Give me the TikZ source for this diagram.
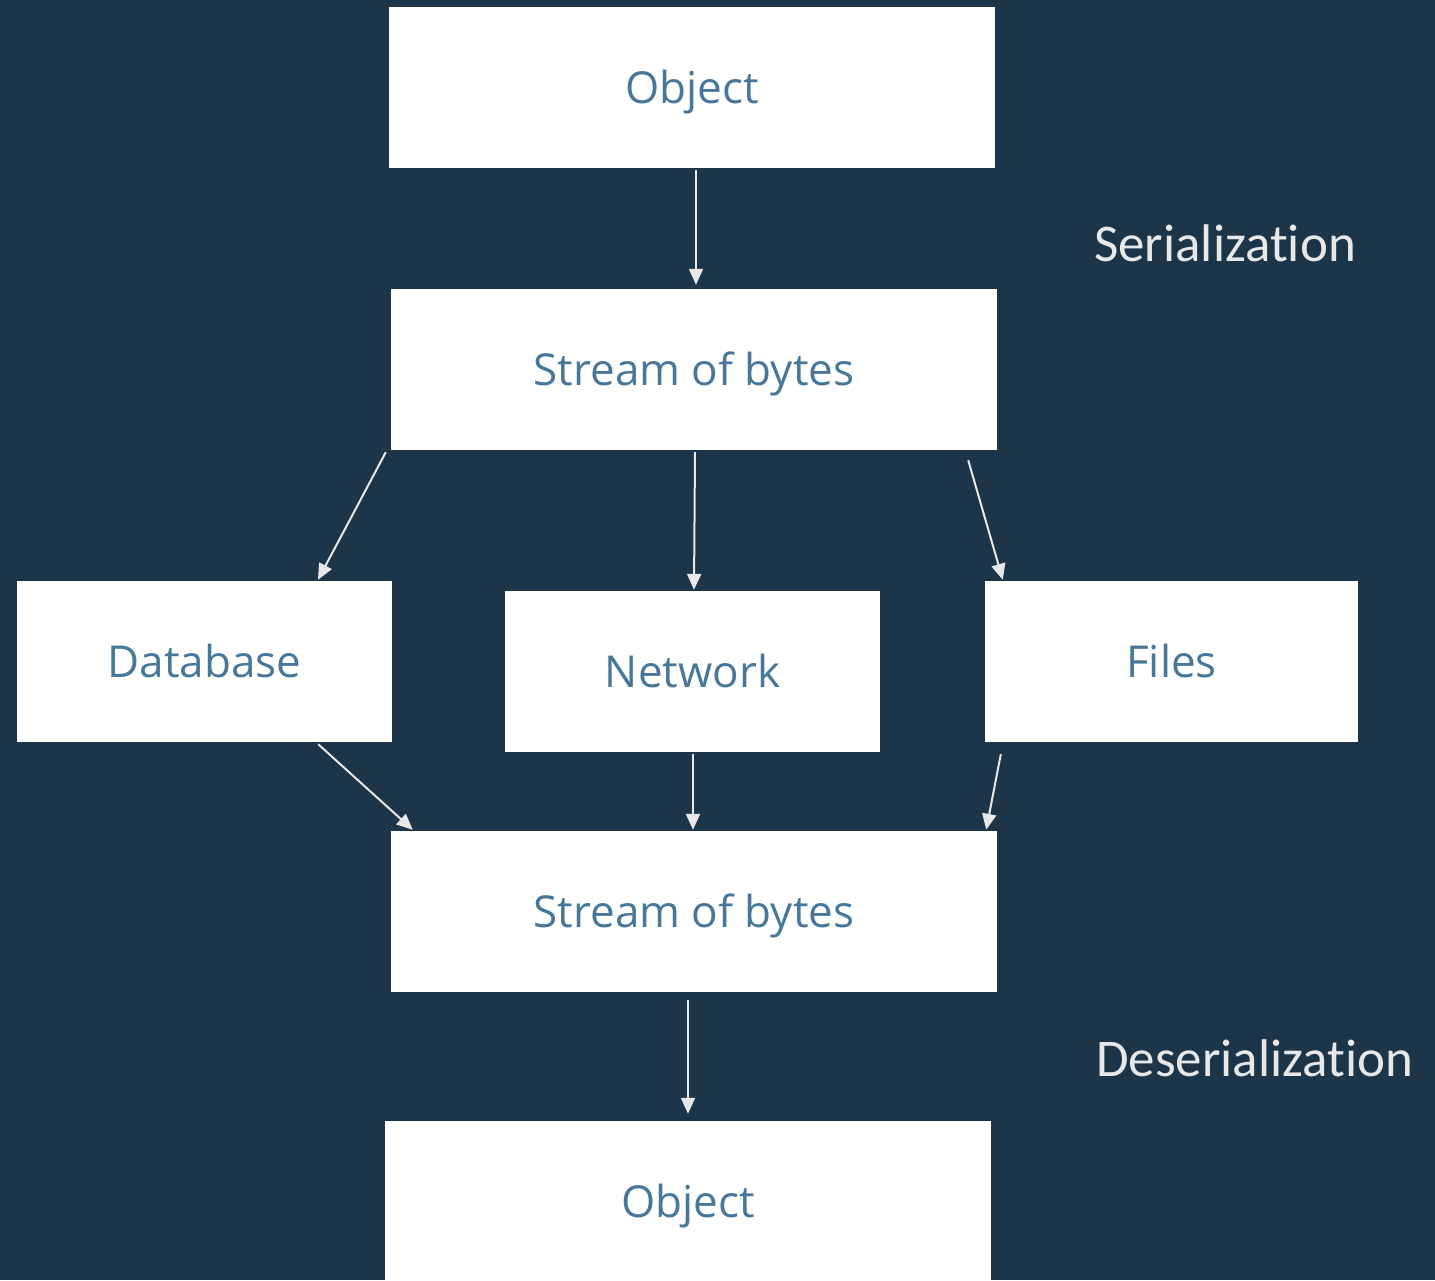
\documentclass[tikz,border=0pt]{standalone}
\usepackage{fontspec}
\setmainfont{Open Sans}
\newfontfamily\labelfont[RawFeature={-liga;-clig;-dlig}]{Carlito}
\usetikzlibrary{arrows.meta,calc}
\definecolor{bgnavy}{HTML}{1C3549}
\definecolor{boxtext}{HTML}{47789A}
\definecolor{linegray}{HTML}{E8E8E8}
\tikzset{
  box/.style={fill=white, draw=none, inner sep=0pt, text=boxtext,
    font=\fontsize{44}{50}\selectfont, text height=32pt, text depth=0pt},
  widebox/.style={box, minimum width=606pt, minimum height=161pt},
  midbox/.style={box, minimum width=375pt, minimum height=161pt},
  conn/.style={draw=linegray, line width=2pt, -{Triangle[width=14pt,length=16pt]}},
  sidelabel/.style={text=linegray, inner sep=0pt, anchor=base west,
    font=\labelfont\fontsize{53}{60}\selectfont}
}
\begin{document}
\begin{tikzpicture}[x=1pt,y=-1pt]
\fill[bgnavy] (0,0) rectangle (1435,1280);
\useasboundingbox (0,0) rectangle (1435,1280);
\clip (0,0) rectangle (1435,1280);
\node[widebox] (o1) at (692,87.5) {Object};
\node[widebox] (s1) at (694,369.5) {Stream of bytes};
\node[midbox] (db) at (204.5,661.5) {Database};
\node[midbox] (nw) at (692.5,671.5) {Network};
\node[box, minimum width=373pt, minimum height=161pt] (fl) at (1171.5,661.5) {Files};
\node[widebox] (s2) at (694,911.5) {Stream of bytes};
\node[widebox] (o2) at (688,1201.5) {Object};
\node[sidelabel] (ser) at (1094,261) {Serializat\kern0pt ion};
\node[sidelabel] (deser) at (1096,1076) {Deserializat\kern0pt ion};
\draw[conn] ($(o1.south)+(4,2)$) -- ($(s1.north)+(2,-4)$);
\draw[conn] ($(s1.south west)+(-5,2)$) -- ($(db.north)+(113.5,-1)$);
\draw[conn] ($(s1.south)+(1,2)$) -- ($(nw.north)+(1.5,-1)$);
\draw[conn] ($(s1.south east)+(-29,10)$) -- ($(fl.north west)+(18,-1)$);
\draw[conn] ($(db.south east)+(-74,2)$) -- ($(s2.north west)+(22,-1)$);
\draw[conn] ($(nw.south)+(0.5,2)$) -- ($(s2.north)+(-1,-1)$);
\draw[conn] ($(fl.south west)+(16,12)$) -- ($(s2.north east)+(-11,-1)$);
\draw[conn] ($(s2.south)+(-6,8)$) -- ($(o2.north)+(0,-7)$);
\end{tikzpicture}
\end{document}
